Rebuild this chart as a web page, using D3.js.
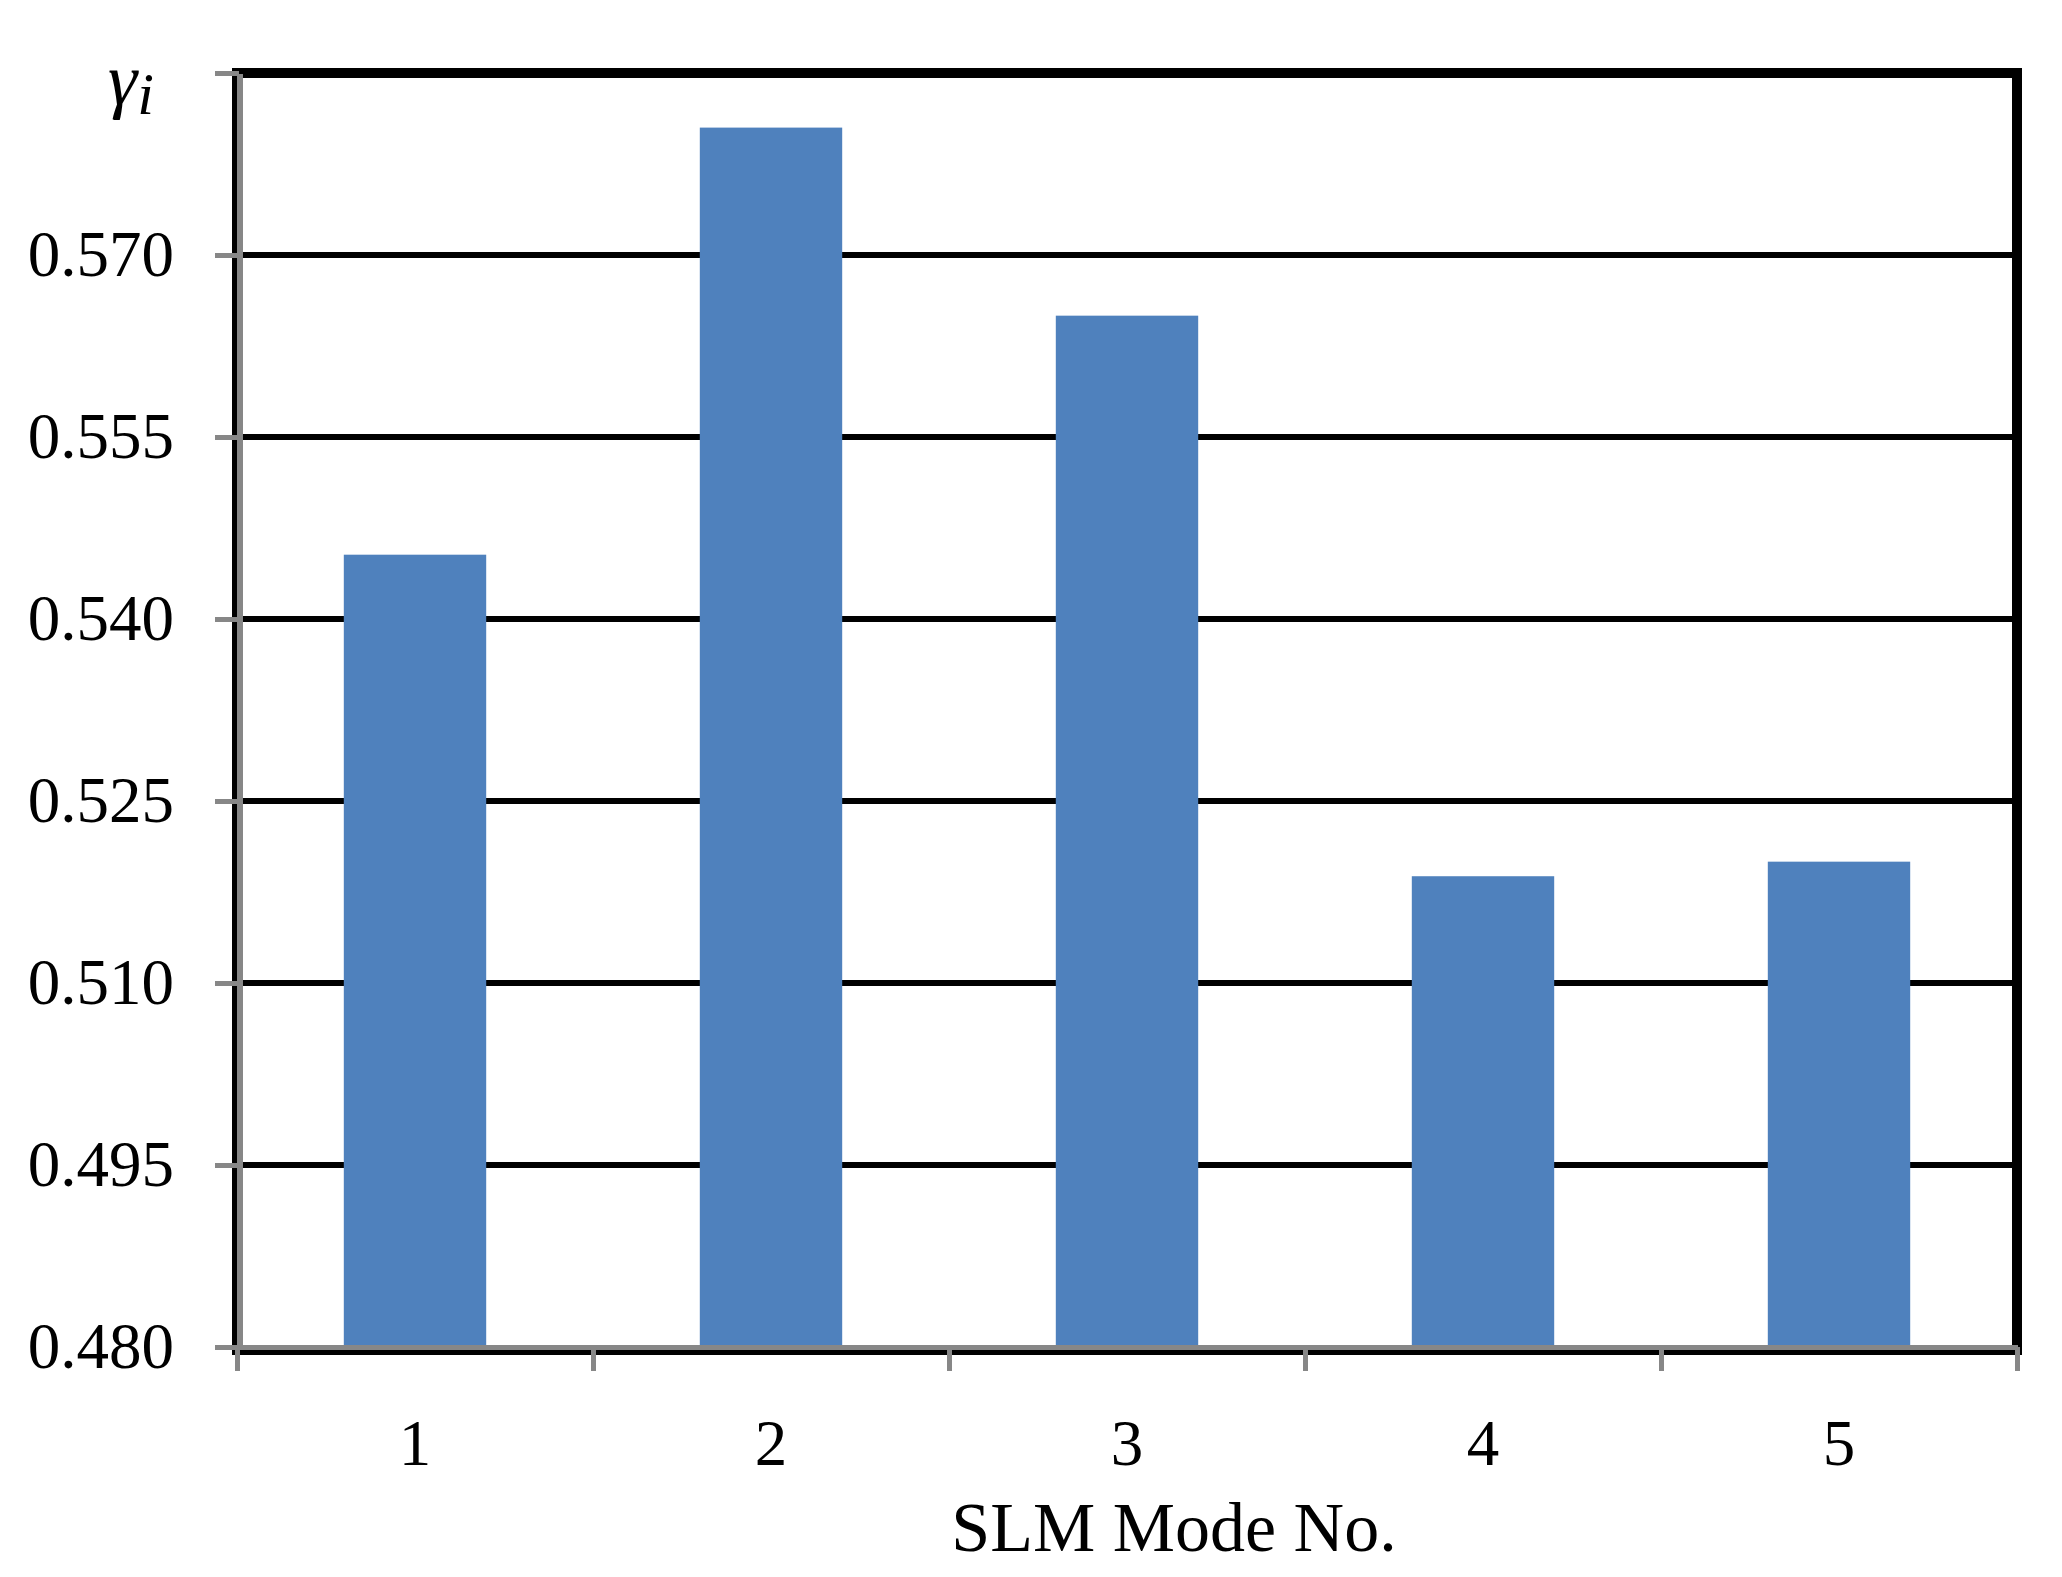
<!DOCTYPE html>
<style>
body {
  margin: 0;
  background-color: #ffffff;
}
.axis text {
  font-family: "Liberation Serif", "DejaVu Serif", serif;
  font-size: 65px;
  fill: #000;
}
.axis path,
.axis line {
  fill: none;
  stroke: #878787;
  stroke-width: 5px;
  shape-rendering: crispEdges;
}
</style>
<svg width="2062" height="1577"></svg>
<script src="https://d3js.org/d3.v7.min.js"></script>
<script>
// values
var modes = ["1", "2", "3", "4", "5"];
var gamma = [0.5453, 0.5805, 0.5650, 0.5188, 0.5200];
var yTicks = [0.480, 0.495, 0.510, 0.525, 0.540, 0.555, 0.570, 0.585];
var yTickLabels = ["0.480", "0.495", "0.510", "0.525", "0.540", "0.555", "0.570", ""];
var xTitle = "SLM Mode No.";

var data = modes.map(function(m, i) { return {mode: m, value: gamma[i]}; });

var svg = d3.select("svg"),
    margin = {top: 73, right: 45, bottom: 230, left: 237},
    width = +svg.attr("width") - margin.left - margin.right,
    height = +svg.attr("height") - margin.top - margin.bottom,
    g = svg.append("g").attr("transform", "translate(" + margin.left + "," + margin.top + ")");

var x = d3.scaleBand()
    .domain(modes)
    .range([0, width])
    .paddingInner(0.6)
    .paddingOuter(0.3);

var xEdge = d3.scaleLinear()
    .domain([0, modes.length])
    .range([0, width]);

var y = d3.scaleLinear()
    .domain([0.480, 0.585])
    .range([height, 0]);

// gridlines
g.append("g")
  .selectAll("line")
  .data(yTicks.slice(1, -1))
  .enter().append("line")
    .attr("x1", 0)
    .attr("x2", width)
    .attr("y1", function(d) { return y(d); })
    .attr("y2", function(d) { return y(d); })
    .attr("stroke", "#000")
    .attr("stroke-width", 5.5)
    .attr("shape-rendering", "crispEdges");

// bars
g.append("g")
  .selectAll("rect")
  .data(data)
  .enter().append("rect")
    .attr("x", function(d) { return x(d.mode); })
    .attr("y", function(d) { return y(d.value); })
    .attr("width", x.bandwidth())
    .attr("height", function(d) { return height - y(d.value); })
    .attr("fill", "#4F81BD");

// plot frame
g.append("rect")
    .attr("x", 0)
    .attr("y", 0)
    .attr("width", width)
    .attr("height", height + 3)
    .attr("fill", "none")
    .attr("stroke", "#000")
    .attr("stroke-width", 10);

// y axis
g.append("g")
    .attr("class", "axis")
    .attr("transform", "translate(2,0)")
    .call(d3.axisLeft(y)
      .tickValues(yTicks)
      .tickSize(24)
      .tickSizeOuter(0)
      .tickPadding(41)
      .tickFormat(function(d, i) { return yTickLabels[i]; }))
    .select(".domain")
      .style("stroke-width", "6px");

// x axis: boundary ticks
g.append("g")
    .attr("class", "axis")
    .attr("transform", "translate(0," + height + ")")
    .call(d3.axisBottom(xEdge)
      .tickValues(d3.range(modes.length + 1))
      .tickSize(24)
      .tickSizeOuter(0)
      .tickFormat(""));

// x axis: category labels
var xLabels = g.append("g")
    .attr("class", "axis")
    .attr("transform", "translate(0," + height + ")")
    .call(d3.axisBottom(x).tickSize(0).tickPadding(72));
xLabels.select(".domain").remove();

svg.append("text")
    .attr("x", 1174)
    .attr("y", 1551)
    .attr("text-anchor", "middle")
    .attr("font-family", "Liberation Serif, DejaVu Serif, serif")
    .attr("font-size", 70)
    .text(xTitle);

// y label: gamma_i
var yl = svg.append("text")
    .attr("x", 108)
    .attr("y", 104)
    .attr("font-family", "Liberation Serif, DejaVu Serif, serif")
    .attr("font-style", "italic")
    .attr("font-size", 74);
yl.append("tspan").text("γ");
yl.append("tspan")
    .attr("dy", 10)
    .attr("font-size", 60)
    .text("i");
</script>
